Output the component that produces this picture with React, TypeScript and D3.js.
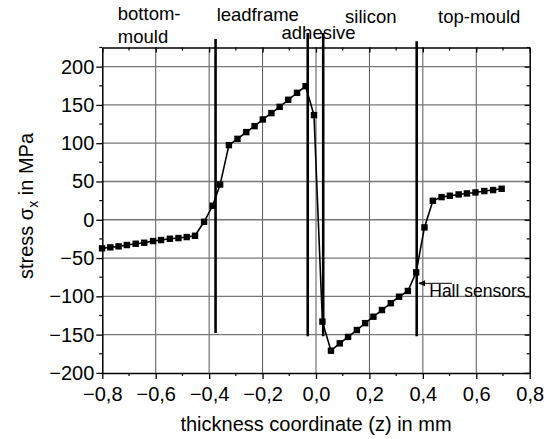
import React, { useEffect, useRef } from 'react';
import * as d3 from 'd3';

// stress profile across the package (z in mm, sigma_x in MPa)
const zValues = [
  -0.801, -0.77, -0.739, -0.708, -0.675, -0.643, -0.61, -0.58, -0.547, -0.515, -0.484, -0.453,
  -0.419, -0.387, -0.359,
  -0.326, -0.294, -0.261, -0.23, -0.199, -0.167, -0.136, -0.104, -0.071, -0.039, -0.0075,
  0.024, 0.056, 0.089, 0.12, 0.153, 0.184, 0.215, 0.247, 0.28, 0.311, 0.344,
  0.375, 0.406, 0.4375, 0.47, 0.501, 0.534, 0.565, 0.597, 0.63, 0.663, 0.695,
];
const stressValues = [
  -37.3, -36, -34.7, -33, -31.3, -30, -27.8, -26.5, -24.8, -23.9, -22.6, -20.9,
  -2.6, 18.3, 46,
  97.5, 105.7, 114.5, 122.3, 131, 139.3, 147.5, 156.7, 165.8, 174.5, 136.7,
  -133, -171, -161.4, -153, -144, -135, -126.6, -117.9, -109, -100.5, -93,
  -68.7, -10, 24.8, 29.6, 31.4, 33.1, 34.4, 35.7, 37.5, 38.8, 40.5,
];

// layer boundaries: z position, top and bottom end in MPa
const boundaryZ = [-0.376, -0.031, 0.027, 0.377];
const boundaryTop = [236, 244, 244, 233];
const boundaryBottom = [-148, -152, -152, -152];

// layer names: z of left edge, stress at baseline
const layerNames = [['bottom-', 'mould'], ['leadframe'], ['adhesive'], ['silicon'], ['top-mould']];
const layerZ = [-0.742, -0.372, -0.129, 0.109, 0.457];
const layerY = [261, 259.6, 236, 257, 257];

const xTicks = [-0.8, -0.6, -0.4, -0.2, 0, 0.2, 0.4, 0.6, 0.8];
const xMinor = [-0.7, -0.5, -0.3, -0.1, 0.1, 0.3, 0.5, 0.7];
const yTicks = [-200, -150, -100, -50, 0, 50, 100, 150, 200];
const yMinor = [-175, -125, -75, -25, 25, 75, 125, 175, 225];

const W = 552;
const H = 439;
const FONT = 'Liberation Sans, Arial, sans-serif';

const App = () => {
  const ref = useRef<SVGSVGElement>(null);

  useEffect(() => {
    const svg = d3.select(ref.current);
    svg.selectAll('*').remove();

    const left = 102.3;
    const right = 529.7;
    const top = 47.5;
    const bottom = 372.9;

    const x = d3.scaleLinear().domain([-0.8, 0.8]).range([left, right]);
    const y = d3.scaleLinear().domain([-200, 225]).range([bottom, top]);

    // grid
    svg
      .append('g')
      .selectAll('line')
      .data(xTicks.slice(1, -1))
      .join('line')
      .attr('x1', (d) => x(d))
      .attr('x2', (d) => x(d))
      .attr('y1', top)
      .attr('y2', bottom)
      .attr('stroke', '#555')
      .attr('stroke-width', 1);

    svg
      .append('g')
      .selectAll('line')
      .data(yTicks.slice(1))
      .join('line')
      .attr('x1', left)
      .attr('x2', right)
      .attr('y1', (d) => y(d))
      .attr('y2', (d) => y(d))
      .attr('stroke', '#777')
      .attr('stroke-width', 1.3);

    // layer boundaries
    svg
      .append('g')
      .selectAll('line')
      .data(boundaryZ)
      .join('line')
      .attr('x1', (d) => x(d))
      .attr('x2', (d) => x(d))
      .attr('y1', (d, i) => y(boundaryTop[i]))
      .attr('y2', (d, i) => y(boundaryBottom[i]))
      .attr('stroke', '#000')
      .attr('stroke-width', 2.6);

    // axes
    const xBottom = d3.axisBottom(x).tickValues(xTicks).tickSize(6).tickSizeOuter(0)
      .tickFormat((d) => d3.format('.1f')(d as number).replace('.', ',').replace('-0,0', '0,0'));
    const gb = svg.append('g').attr('transform', `translate(0,${bottom})`).call(xBottom);
    gb.selectAll('text').attr('font-size', 20).attr('font-family', FONT).attr('dy', '0.95em').attr('fill', '#000');

    const xTop = d3.axisTop(x).tickValues(xTicks).tickSize(-5).tickSizeOuter(0).tickFormat(() => '');
    svg.append('g').attr('transform', `translate(0,${top})`).call(xTop);

    const yLeft = d3.axisLeft(y).tickValues(yTicks).tickSize(6).tickSizeOuter(0);
    const gl = svg.append('g').attr('transform', `translate(${left},0)`).call(yLeft);
    gl.selectAll('text').attr('font-size', 20).attr('font-family', FONT).attr('x', -8).attr('fill', '#000');

    const yRight = d3.axisRight(y).tickValues(yTicks).tickSize(-5).tickSizeOuter(0).tickFormat(() => '');
    svg.append('g').attr('transform', `translate(${right},0)`).call(yRight);

    svg.selectAll('.domain').attr('stroke', '#000').attr('stroke-width', 1.5);
    svg.selectAll('.tick line').attr('stroke', '#000').attr('stroke-width', 1.3);

    // minor ticks
    const minor = svg.append('g').attr('stroke', '#000').attr('stroke-width', 1.2);
    xMinor.forEach((d) => {
      minor.append('line').attr('x1', x(d)).attr('x2', x(d)).attr('y1', bottom).attr('y2', bottom + 3);
      minor.append('line').attr('x1', x(d)).attr('x2', x(d)).attr('y1', top).attr('y2', top + 3);
    });
    yMinor.forEach((d) => {
      minor.append('line').attr('x1', left).attr('x2', left - 3).attr('y1', y(d)).attr('y2', y(d));
      minor.append('line').attr('x1', right).attr('x2', right - 3).attr('y1', y(d)).attr('y2', y(d));
    });

    // data
    const points = zValues.map((z, i) => [z, stressValues[i]] as [number, number]);
    const line = d3
      .line<[number, number]>()
      .x((d) => x(d[0]))
      .y((d) => y(d[1]));

    svg
      .append('path')
      .attr('d', line(points))
      .attr('fill', 'none')
      .attr('stroke', '#000')
      .attr('stroke-width', 1.6);

    svg
      .append('g')
      .selectAll('rect')
      .data(points)
      .join('rect')
      .attr('x', (d) => x(d[0]) - 3.2)
      .attr('y', (d) => y(d[1]) - 3.2)
      .attr('width', 6.4)
      .attr('height', 6.4)
      .attr('fill', '#000');

    // layer names
    layerNames.forEach((lines, i) => {
      const t = svg
        .append('text')
        .attr('x', x(layerZ[i]))
        .attr('y', y(layerY[i]))
        .attr('font-size', 18.5)
        .attr('font-family', FONT);
      lines.forEach((s, j) => {
        t.append('tspan').attr('x', x(layerZ[i])).attr('dy', j === 0 ? 0 : 23).text(s);
      });
    });

    // Hall sensors annotation
    svg
      .append('line')
      .attr('x1', x(0.509))
      .attr('x2', x(0.387))
      .attr('y1', y(-83))
      .attr('y2', y(-83))
      .attr('stroke', '#000')
      .attr('stroke-width', 1);
    svg
      .append('path')
      .attr('d', `M${x(0.382)},${y(-83)} l7,-3 l0,6 z`)
      .attr('fill', '#000');
    svg
      .append('text')
      .attr('x', x(0.424))
      .attr('y', y(-100.5))
      .attr('font-size', 17.5)
      .attr('font-family', FONT)
      .text('Hall sensors');

    // axis titles
    svg
      .append('text')
      .attr('x', x(0))
      .attr('y', 431)
      .attr('text-anchor', 'middle')
      .attr('font-size', 20)
      .attr('font-family', FONT)
      .text('thickness coordinate (z) in mm');

    const yt = svg
      .append('text')
      .attr('transform', 'translate(33,206) rotate(-90)')
      .attr('text-anchor', 'middle')
      .attr('font-size', 20)
      .attr('font-family', FONT);
    yt.append('tspan').text('stress σ');
    yt.append('tspan').attr('font-size', 14).attr('dy', 5).text('x');
    yt.append('tspan').attr('dy', -5).text(' in MPa');
  }, []);

  return (
    <svg
      ref={ref}
      width={W}
      height={H}
      style={{ position: 'absolute', left: 0, top: 0, background: '#fff' }}
    />
  );
};

export default App;
